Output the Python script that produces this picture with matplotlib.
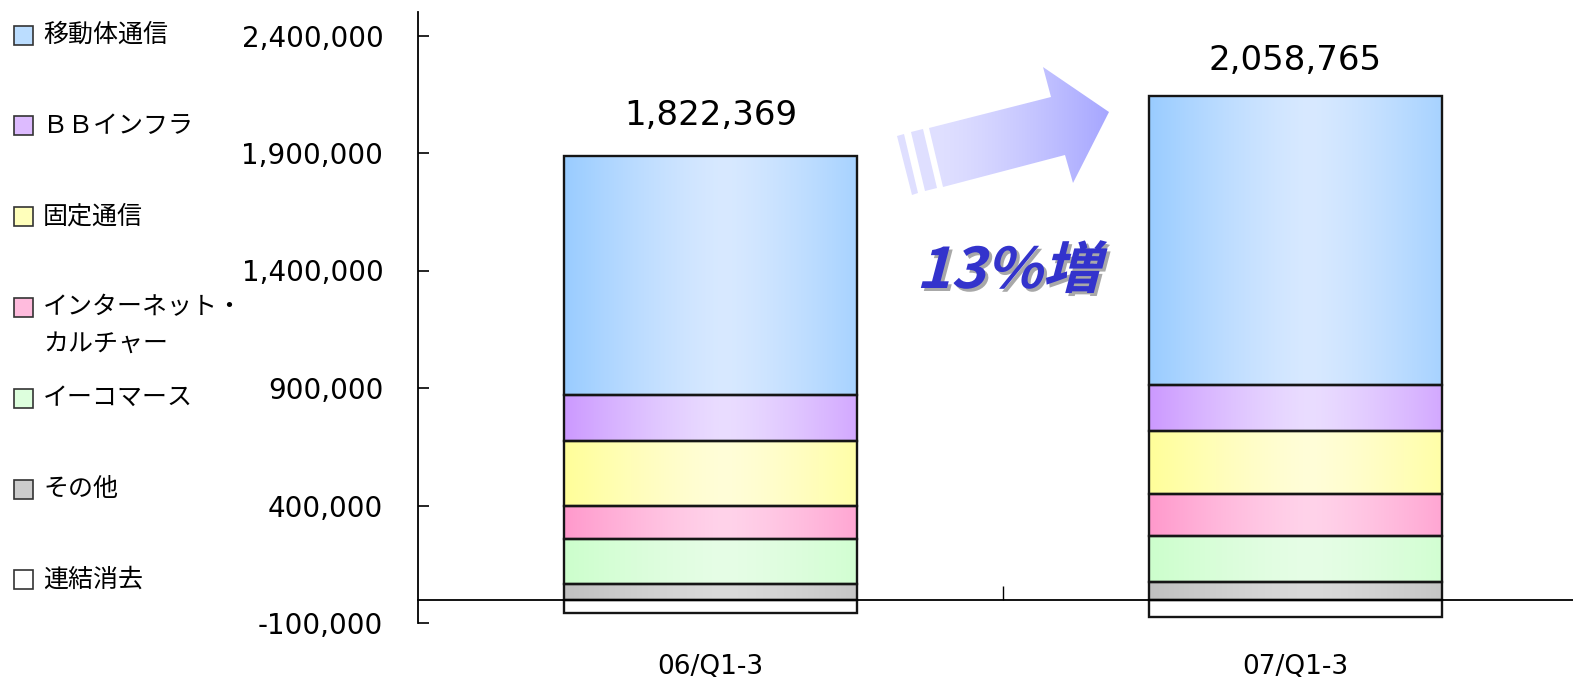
import numpy as np
import matplotlib
matplotlib.use('Agg')
import matplotlib.pyplot as plt
from matplotlib.patches import Polygon, Rectangle, PathPatch
from matplotlib.textpath import TextPath
from matplotlib.font_manager import FontProperties
from matplotlib.transforms import Affine2D
from matplotlib.colors import to_rgb

plt.rcParams['font.family'] = ['DejaVu Sans', 'Noto Sans CJK JP']

# data
periods = ['06/Q1-3', '07/Q1-3']
total_values = [1822369, 2058765]
total_labels = ['1,822,369', '2,058,765']

sonota = [67000, 76000]          # その他
ecommerce = [190000, 196000]     # イーコマース
internet = [142000, 176000]      # インターネット・カルチャー
kotei = [275000, 269000]         # 固定通信
bb_infra = [197000, 197000]      # ＢＢインフラ
mobile = [1015000, 1230000]      # 移動体通信
elimination = [-58000, -73000]   # 連結消去

yticks = [-100000, 400000, 900000, 1400000, 1900000, 2400000]

# stacked from bottom up: (values, edge colour, centre colour)
stack = [
    (sonota, '#C0C0C0', '#DADADA'),
    (ecommerce, '#CCFFCC', '#E6FDE6'),
    (internet, '#FF99CC', '#FFD3EA'),
    (kotei, '#FFFF99', '#FFFDD8'),
    (bb_infra, '#CC99FF', '#EADDFF'),
    (mobile, '#99CCFF', '#D8E9FF'),
]

legend_items = [
    ('移動体通信', '#BBDDFF'),
    ('ＢＢインフラ', '#DDBBFF'),
    ('固定通信', '#FFFFBB'),
    ('インターネット・\nカルチャー', '#FFBBDD'),
    ('イーコマース', '#DDFFDD'),
    ('その他', '#CCCCCC'),
    ('連結消去', '#FFFFFF'),
]


def gradient(edge, center, n=256):
    t = np.linspace(0, 1, n)
    s = np.clip(np.abs(t - 0.55) / 0.55, 0, 1) ** 1.3
    e = np.array(to_rgb(edge))
    c = np.array(to_rgb(center))
    return (c[None, :] * (1 - s[:, None]) + e[None, :] * s[:, None])[None, :, :]


W, H = 1573, 686
fig = plt.figure(figsize=(W / 100, H / 100), dpi=100)
ax = fig.add_axes([418 / W, 1 - 623 / H, 1170 / W, 611 / H])
for s in ['top', 'right']:
    ax.spines[s].set_visible(False)
ax.spines['bottom'].set_position(('data', 0))
ax.spines['bottom'].set_zorder(4)
ax.spines['bottom'].set_linewidth(1.3)
ax.spines['left'].set_linewidth(1.3)

x = np.arange(len(periods))
width = 0.5

def draw_bars(vals, bottom, edge, center):
    bars = ax.bar(x, vals, width, bottom=bottom, facecolor='none',
                  edgecolor='#151515', linewidth=1.7, zorder=3)
    grad = gradient(edge, center)
    for r in bars:
        x0, y0 = r.get_xy()
        ax.imshow(grad, extent=(x0, x0 + r.get_width(), y0, y0 + r.get_height()),
                  aspect='auto', interpolation='bilinear', zorder=2)

bottom = np.zeros(len(periods))
for vals, edge, center in stack:
    draw_bars(vals, bottom, edge, center)
    bottom = bottom + np.array(vals)
draw_bars(elimination, np.zeros(len(periods)), '#FFFFFF', '#FFFFFF')

for xi, tv, tl in zip(x, total_values, total_labels):
    ax.annotate(tl, (xi, tv), xytext=(0, 40), textcoords='offset points',
                ha='center', va='center', fontsize=24.5)

ax.set_xlim(-0.5, 1.5)
ax.set_ylim(-100000, 2500000)
ax.set_yticks(yticks)
ax.set_yticklabels([f'{v:,}' for v in yticks])
ax.tick_params(axis='y', direction='in', length=8, width=1.2, pad=25, labelsize=20)
ax.set_xticks(x)
ax.set_xticklabels(periods)
ax.set_xticks([0.5], minor=True)
ax.tick_params(axis='x', which='major', length=0, pad=39, labelsize=19)
ax.tick_params(axis='x', which='minor', direction='in', length=10, width=1)

# overlay in pixel coordinates for legend, arrow and note
ov = fig.add_axes([0, 0, 1, 1], zorder=5)
ov.axis('off')

for i, (label, col) in enumerate(legend_items):
    yc = 35 + 90.8 * i
    ov.add_patch(Rectangle((14, yc - 9.5), 19, 19, facecolor=col,
                           edgecolor='#333333', linewidth=1.2))
    for k, line in enumerate(label.split('\n')):
        ov.text(43, yc + 36 * k, line, fontsize=18, family=['Noto Sans CJK JP'],
                ha='left', va='center')

arrow_shapes = [
    [(929, 128), (1051, 97), (1043, 67), (1109, 112), (1073, 183), (1065, 155), (943, 187)],
    [(911, 132), (923, 129), (937, 188), (925, 191)],
    [(897, 136), (904, 134), (918, 193), (912, 195)],
]
arrow_grad = gradient('#9494FF', '#E0E0FF')[:, 140:, :]
arrow_grad = np.concatenate([np.repeat(arrow_grad[:, :1, :], 30, axis=1), arrow_grad], axis=1)
for pts in arrow_shapes:
    poly = Polygon(pts, closed=True, facecolor='none', edgecolor='none')
    ov.add_patch(poly)
    im = ov.imshow(arrow_grad, extent=(890, 1112, 200, 60), aspect='auto',
                   interpolation='bilinear')
    im.set_clip_path(poly)

fp = FontProperties(family='Noto Sans CJK JP', weight='bold')
tp = TextPath((0, 0), '13%増', size=56, prop=fp)
for dx, col in [(3, '#A8A8A8'), (0, '#3333CC')]:
    tr = Affine2D().skew_deg(14, 0).scale(1.05, -1).translate(916 + dx, 288 + dx) + ov.transData
    ov.add_patch(PathPatch(tp, facecolor=col, edgecolor='none', transform=tr))

ov.set_xlim(0, W)
ov.set_ylim(H, 0)

fig.savefig('out.png', dpi=100)
